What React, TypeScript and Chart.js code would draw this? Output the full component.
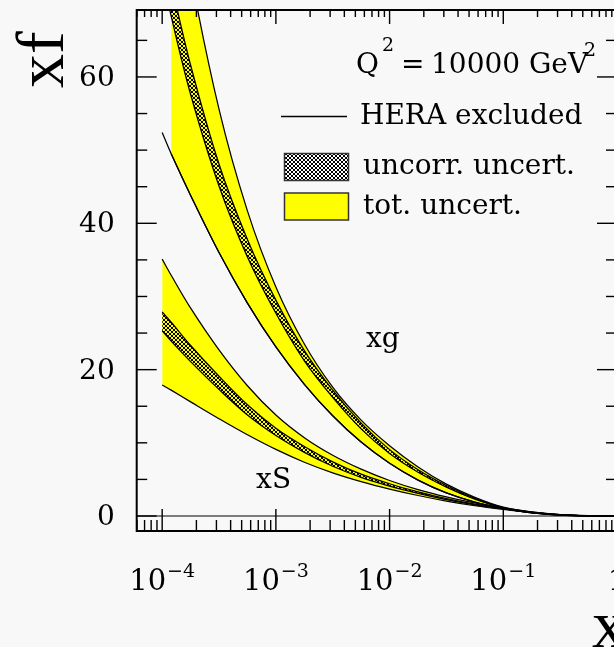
import React, { useEffect, useRef } from 'react';
import { Chart, registerables } from 'chart.js';

Chart.register(...registerables);

// ---- data ----
const X_POINTS = [1e-4, 1.2e-4, 1.78e-4, 3.16e-4, 5.62e-4, 1e-3, 1.78e-3, 3.16e-3, 5.62e-3, 1e-2, 1.78e-2, 3.16e-2, 5.62e-2, 0.1, 0.178, 0.316, 0.562, 1];

const XG_TOT_HIGH = [97, 90.2, 74.1, 55.6, 41.7, 31.3, 23.5, 17.6, 13.1, 9.6, 6.7, 4.35, 2.55, 1.2, 0.5, 0.16, 0.03, 0];
const XG_TOT_LOW = [52.4, 49.5, 43.8, 36.0, 29.1, 23.1, 18.0, 13.7, 10.1, 7.2, 4.9, 3.15, 1.9, 1.05, 0.42, 0.13, 0.02, 0];
const XG_UNC_HIGH = [78.9, 72.9, 61.6, 48.1, 37.8, 29.5, 22.6, 17.2, 12.7, 9.07, 6.33, 4.16, 2.41, 1.15, 0.47, 0.148, 0.026, 0];
const XG_UNC_LOW = [73.9, 68.3, 57.6, 45.1, 35.4, 27.7, 21.2, 16.2, 11.9, 8.53, 5.97, 3.94, 2.29, 1.09, 0.45, 0.142, 0.024, 0];

const XS_TOT_HIGH = [35.1, 32.9, 28.4, 22.7, 17.8, 13.8, 10.7, 8.3, 6.4, 4.85, 3.6, 2.6, 1.78, 1.1, 0.55, 0.2, 0.04, 0];
const XS_TOT_LOW = [17.9, 17.2, 15.6, 13.3, 11.1, 9.1, 7.35, 5.9, 4.7, 3.68, 2.8, 2.04, 1.4, 0.9, 0.48, 0.17, 0.035, 0];
const XS_UNC_HIGH = [27.9, 26.5, 23.3, 19.1, 15.2, 12.0, 9.5, 7.4, 5.72, 4.41, 3.31, 2.37, 1.61, 1.03, 0.535, 0.19, 0.038, 0];
const XS_UNC_LOW = [25.3, 23.9, 21.1, 17.3, 13.8, 11.0, 8.7, 6.8, 5.28, 4.09, 3.09, 2.23, 1.53, 0.97, 0.505, 0.18, 0.036, 0];

const Y_TICKS = [0, 20, 40, 60];
const Y_TICK_LABELS = ['0', '20', '40', '60'];
const X_TICKS = [1e-4, 1e-3, 1e-2, 1e-1, 1];
const X_TICK_BASES = ['10', '10', '10', '10', '1'];
const X_TICK_EXPONENTS = ['\u22124', '\u22123', '\u22122', '\u22121', ''];

const X_MIN = 5.97e-5;
const X_MAX = 1;
const Y_MIN = -2.05;
const Y_MAX = 69.15;

// curve labels in data coordinates
const XG_LABEL = { text: 'xg', x: 6.2e-3, y: 23.1 };
const XS_LABEL = { text: 'xS', x: 6.7e-4, y: 3.83 };

const LEGEND_TEXTS = ['HERA excluded', 'uncorr. uncert.', 'tot. uncert.'];
const Q2_TEXT = { q: 'Q', value: '10000 GeV' };

const SERIF = '"DejaVu Serif", "Liberation Serif", serif';
const TITLE_SERIF = '"Liberation Serif", "DejaVu Serif", serif';
const YELLOW = '#ffff00';

function makeHatch(bg: string, s: number): CanvasPattern {
  const c = document.createElement('canvas');
  c.width = s;
  c.height = s;
  const g = c.getContext('2d')!;
  g.fillStyle = bg;
  g.fillRect(0, 0, s, s);
  g.fillStyle = '#000';
  for (let i = 0; i < s; i++) {
    g.fillRect(i, i, 1, 1);
    g.fillRect(s - 1 - i, i, 1, 1);
  }
  return g.createPattern(c, 'repeat')!;
}

function pts(ys: number[], from = 0) {
  return X_POINTS.slice(from).map((x, i) => ({ x, y: ys[i + from] }));
}

export default function App() {
  const ref = useRef<HTMLCanvasElement>(null);

  useEffect(() => {
    const canvas = ref.current!;
    const bandHatch = makeHatch(YELLOW, 4);
    const legendHatch = makeHatch('#ffffff', 4);

    const line = (data: any[], order: number, extra: any = {}) => ({
      data,
      order,
      borderColor: '#000',
      borderWidth: 1.25,
      pointRadius: 0,
      fill: false,
      tension: 0.35,
      ...extra,
    });

    const overlay = {
      id: 'overlay',
      afterDatasetsDraw(chart: any) {
        const { ctx, chartArea: a, scales } = chart;
        const xs = scales.x;
        const ys = scales.y;
        ctx.save();
        ctx.strokeStyle = '#000';
        ctx.fillStyle = '#000';
        const seg = (x1: number, y1: number, x2: number, y2: number) => {
          ctx.beginPath();
          ctx.moveTo(x1, y1);
          ctx.lineTo(x2, y2);
          ctx.stroke();
        };
        // zero line
        ctx.lineWidth = 1.2;
        const y0 = ys.getPixelForValue(0);
        seg(a.left, y0, a.right, y0);
        // x ticks (log)
        ctx.lineWidth = 1.4;
        for (let e = -5; e <= 0; e++) {
          for (let m = 1; m <= 9; m++) {
            const v = m * Math.pow(10, e);
            if (v < xs.min * 0.999 || v > xs.max * 1.001) continue;
            const px = xs.getPixelForValue(v);
            const major = m === 1;
            seg(px, a.bottom, px, a.bottom - (major ? 22 : 11));
            seg(px, a.top, px, a.top + (major ? 14 : 7));
          }
        }
        // y ticks
        for (let v = 0; v <= ys.max; v += 5) {
          const py = ys.getPixelForValue(v);
          const major = v % 20 === 0;
          seg(a.left, py, a.left + (major ? 20 : 10.5), py);
          seg(a.right, py, a.right - (major ? 20 : 11), py);
        }
        // frame
        ctx.lineWidth = 2;
        ctx.strokeRect(a.left, a.top, a.right - a.left, a.bottom - a.top);

        // y tick labels
        ctx.font = `28px ${SERIF}`;
        ctx.textAlign = 'right';
        ctx.textBaseline = 'alphabetic';
        Y_TICKS.forEach((v, i) => {
          ctx.fillText(Y_TICK_LABELS[i], a.left - 22, ys.getPixelForValue(v) + 9);
        });
        // x tick labels
        ctx.textAlign = 'left';
        X_TICKS.forEach((v, i) => {
          const px = xs.getPixelForValue(v);
          const base = X_TICK_BASES[i];
          const exp = X_TICK_EXPONENTS[i];
          ctx.font = `29px ${SERIF}`;
          const wb = ctx.measureText(base).width;
          ctx.font = `19px ${SERIF}`;
          const we = exp ? ctx.measureText(exp).width + 1 : 0;
          const x0 = px - (wb + we) / 2;
          ctx.font = `29px ${SERIF}`;
          ctx.fillText(base, x0, a.bottom + 59);
          if (exp) {
            ctx.font = `19px ${SERIF}`;
            ctx.fillText(exp, x0 + wb + 1, a.bottom + 46);
          }
        });

        // curve labels
        ctx.font = `28px ${SERIF}`;
        [XG_LABEL, XS_LABEL].forEach((l) => {
          ctx.fillText(l.text, xs.getPixelForValue(l.x), ys.getPixelForValue(l.y));
        });

        // Q^2 text
        ctx.font = `28px ${SERIF}`;
        ctx.fillText(Q2_TEXT.q, 356, 73);
        ctx.font = `19px ${SERIF}`;
        ctx.fillText('2', 382, 51);
        ctx.font = `28px ${SERIF}`;
        ctx.fillText('=', 401, 73);
        ctx.fillText(Q2_TEXT.value, 431, 73);
        ctx.font = `19px ${SERIF}`;
        ctx.fillText('2', 584, 56);

        // legend
        ctx.font = `28px ${SERIF}`;
        ctx.lineWidth = 1.3;
        seg(281, 116.5, 347, 116.5);
        ctx.fillText(LEGEND_TEXTS[0], 360, 124);
        ctx.fillStyle = legendHatch;
        ctx.fillRect(284.5, 153.5, 64, 27);
        ctx.strokeStyle = '#333';
        ctx.lineWidth = 1.5;
        ctx.strokeRect(284.5, 153.5, 64, 27);
        ctx.fillStyle = YELLOW;
        ctx.fillRect(284.5, 193, 64, 27);
        ctx.strokeRect(284.5, 193, 64, 27);
        ctx.fillStyle = '#000';
        ctx.fillText(LEGEND_TEXTS[1], 363, 174);
        ctx.fillText(LEGEND_TEXTS[2], 363, 213.5);

        // axis titles
        ctx.font = `68px ${TITLE_SERIF}`;
        ctx.fillText('x', 592, 647);
        ctx.save();
        ctx.translate(63, 88);
        ctx.rotate(-Math.PI / 2);
        ctx.fillText('xf', 0, 0);
        ctx.restore();

        ctx.restore();
      },
    };

    const chart = new Chart(canvas, {
      type: 'line',
      data: {
        datasets: [
          line(pts(XG_TOT_HIGH, 1), 2),
          line(pts(XG_TOT_LOW, 1), 2, { fill: '-1', backgroundColor: YELLOW }),
          line(pts(XG_UNC_HIGH), 1),
          line(pts(XG_UNC_LOW), 1, { fill: '-1', backgroundColor: bandHatch }),
          line(pts(XS_TOT_HIGH), 2),
          line(pts(XS_TOT_LOW), 2, { fill: '-1', backgroundColor: YELLOW }),
          line(pts(XS_UNC_HIGH), 1),
          line(pts(XS_UNC_LOW), 1, { fill: '-1', backgroundColor: bandHatch }),
          line(pts(XG_TOT_LOW), 0),
        ] as any,
      },
      options: {
        animation: false,
        responsive: false,
        events: [],
        layout: { padding: { left: 136.7, top: 10, right: 23, bottom: 116 } },
        plugins: {
          legend: { display: false },
          tooltip: { enabled: false },
          filler: { drawTime: 'beforeDatasetsDraw' },
        } as any,
        scales: {
          x: { type: 'logarithmic', min: X_MIN, max: X_MAX, display: false },
          y: { type: 'linear', min: Y_MIN, max: Y_MAX, display: false },
        },
      },
      plugins: [overlay],
    });
    return () => chart.destroy();
  }, []);

  return (
    <div
      style={{
        position: 'fixed',
        left: 0,
        top: 0,
        width: 614,
        height: 647,
        overflow: 'hidden',
        background: '#f8f8f8',
      }}
    >
      <canvas ref={ref} width={640} height={647} style={{ display: 'block' }} />
    </div>
  );
}
